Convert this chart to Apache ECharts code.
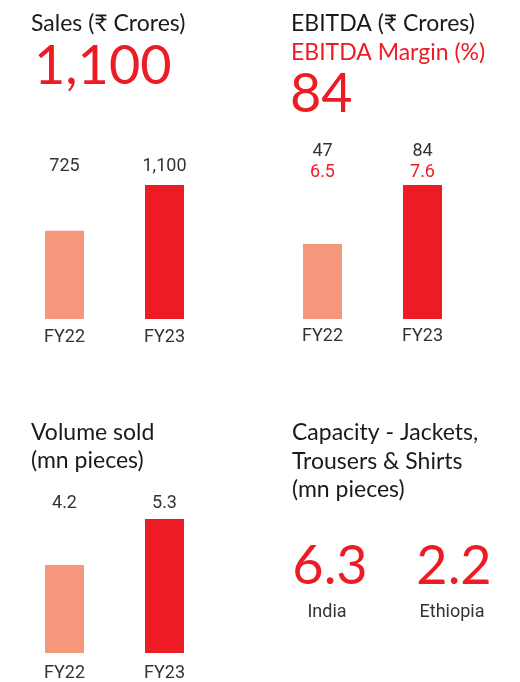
<!DOCTYPE html>
<html>
<head>
<meta charset="utf-8">
<script src="https://cdn.jsdelivr.net/npm/echarts@6/dist/echarts.min.js"></script>
<style>
  html, body { margin: 0; padding: 0; background: #fff; }
  #chart { width: 520px; height: 682px; }
</style>
</head>
<body>
<div id="chart"></div>
<script>
// ---- Data ----
const categories = ['FY22', 'FY23'];
const sales = [725, 1100];
const ebitda = [47, 84];
const ebitdaMargin = [6.5, 7.6];
const volume = [4.2, 5.3];
const capacityRegions = ['India', 'Ethiopia'];
const capacity = [6.3, 2.2];
const barColors = ['#F4977A', '#ED1C24'];

const RED = '#ED1C24';
const DARK = '#1a1a1a';
const GRAY = '#333333';
const TITLE_FONT = 'Lato, "Noto Sans", sans-serif';
const LABEL_FONT = 'Roboto, "Noto Sans", sans-serif';
const SMALL = 18;

const fmt = v => v.toLocaleString('en-US', { maximumFractionDigits: 1, minimumFractionDigits: (v % 1 === 0 ? 0 : 1) });

const chart = echarts.init(document.getElementById('chart'), null, { renderer: 'canvas' });

function barData(arr) {
  return arr.map((v, i) => ({ value: v, itemStyle: { color: barColors[i] } }));
}

function bottomAxis(gridIndex, margin) {
  return {
    type: 'category', gridIndex, data: categories, position: 'bottom',
    axisLine: { show: false }, axisTick: { show: false },
    axisLabel: { fontFamily: LABEL_FONT, fontSize: SMALL, color: GRAY, margin }
  };
}
function topAxis(gridIndex, margin, formatter, rich) {
  return {
    type: 'category', gridIndex, data: categories, position: 'top',
    axisLine: { show: false }, axisTick: { show: false },
    axisLabel: { fontFamily: LABEL_FONT, fontSize: SMALL, color: GRAY, margin, formatter, rich }
  };
}
function valueAxis(gridIndex, min, max) {
  return { type: 'value', gridIndex, min, max, show: false, splitLine: { show: false } };
}

function txt(x, y, text, size, color, align, font) {
  return {
    type: 'text', x, y,
    style: { text, fontSize: size, fontFamily: font || TITLE_FONT, fill: color, align: align || 'left', verticalAlign: 'middle' }
  };
}

const option = {
  animation: false,
  backgroundColor: '#ffffff',
  grid: [
    { left: 14.5, width: 200, top: 185, height: 134 },
    { left: 272.5, width: 200, top: 185, height: 134 },
    { left: 14.5, width: 200, top: 519, height: 134 }
  ],
  xAxis: [
    bottomAxis(0, 9),
    bottomAxis(1, 8),
    bottomAxis(2, 11),
    topAxis(0, 10, (c, i) => fmt(sales[i])),
    topAxis(1, 2, (c, i) => '{a|' + fmt(ebitda[i]) + '}\n{b|' + fmt(ebitdaMargin[i]) + '}', {
      a: { fontFamily: LABEL_FONT, fontSize: SMALL, color: GRAY, lineHeight: 21 },
      b: { fontFamily: LABEL_FONT, fontSize: SMALL, color: RED, lineHeight: 21 }
    }),
    topAxis(2, 7, (c, i) => fmt(volume[i]))
  ],
  yAxis: [
    valueAxis(0, 0, 1100),
    valueAxis(1, 0, 84),
    valueAxis(2, 2.1, 5.3)
  ],
  series: [
    { type: 'bar', xAxisIndex: 0, yAxisIndex: 0, barWidth: 39, data: barData(sales) },
    { type: 'bar', xAxisIndex: 1, yAxisIndex: 1, barWidth: 39, data: barData(ebitda) },
    { type: 'bar', xAxisIndex: 2, yAxisIndex: 2, barWidth: 39, data: barData(volume) }
  ],
  graphic: [
    txt(31, 24, 'Sales (₹ Crores)', 23, DARK),
    txt(34, 67, fmt(sales[1]), 54, RED),
    txt(291, 24, 'EBITDA (₹ Crores)', 23, DARK),
    txt(291, 53, 'EBITDA Margin (%)', 23, RED),
    txt(290, 95, fmt(ebitda[1]), 54, RED),
    txt(31, 433, 'Volume sold', 23, DARK),
    txt(31, 461, '(mn pieces)', 23, DARK),
    txt(292, 433, 'Capacity - Jackets,', 23, DARK),
    txt(292, 462, 'Trousers & Shirts', 23, DARK),
    txt(292, 490, '(mn pieces)', 23, DARK),
    txt(330, 567, fmt(capacity[0]), 54, RED, 'center'),
    txt(454, 567, fmt(capacity[1]), 54, RED, 'center'),
    txt(327, 612, capacityRegions[0], SMALL, GRAY, 'center', LABEL_FONT),
    txt(452, 612, capacityRegions[1], SMALL, GRAY, 'center', LABEL_FONT)
  ]
};

chart.setOption(option);
</script>
</body>
</html>
